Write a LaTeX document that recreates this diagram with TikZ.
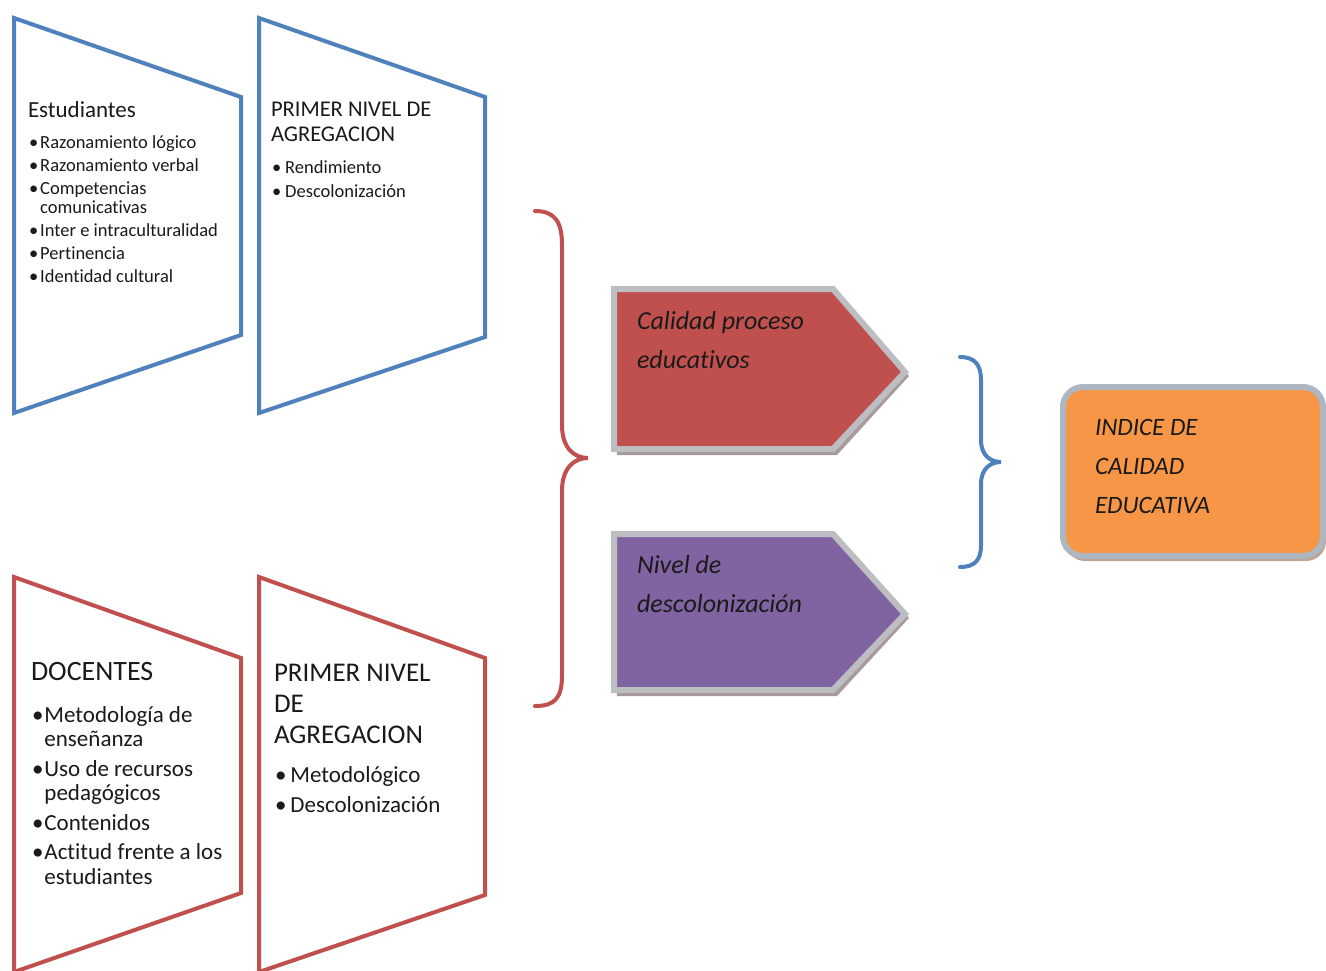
\documentclass[tikz,border=0pt]{standalone}
\usepackage{fontspec}
\setmainfont[Ligatures={NoCommon}]{Carlito}
\definecolor{cblue}{HTML}{4F81BD}
\definecolor{cred}{HTML}{C0504D}
\definecolor{cpurple}{HTML}{8064A2}
\definecolor{corange}{HTML}{F79646}
\definecolor{cgray}{HTML}{BDBEC1}
\definecolor{cgrayb}{HTML}{AEB6C2}
\definecolor{cshadow}{HTML}{A89A9C}
\definecolor{oshadow}{HTML}{BFA493}
\definecolor{ctext}{HTML}{1A1A1A}
\tikzset{
  trap/.style={line width=4pt, line join=miter, fill=white},
  brace/.style={line width=4pt, line cap=round},
  arrowshape/.style={draw=cgray, line width=6pt, line join=miter},
  shadowshape/.style={fill=cshadow, draw=none},
  txt/.style={anchor=base west, inner sep=0pt, outer sep=0pt, text=ctext},
}
\begin{document}
\begin{tikzpicture}[x=1pt,y=-1pt]
\useasboundingbox (0,0) rectangle (1326,970);
% trapezoids
\path[trap, draw=cblue] (14,18) -- (241,97) -- (241,335) -- (14,413) -- cycle;
\path[trap, draw=cblue] (259,18) -- (485,97) -- (485,337) -- (259,413) -- cycle;
\path[trap, draw=cred] (14,577) -- (241,658) -- (241,893) -- (14,972) -- cycle;
\path[trap, draw=cred] (259,577) -- (485,658) -- (485,895) -- (259,972) -- cycle;

% texts top-left
\node[txt] (est) at (28,117) {\fontsize{23}{25}\selectfont Estudiantes};
\node[txt] (estl) at (29,148) {\fontsize{18.5}{23}\selectfont\begin{tabular}[t]{@{}l@{\hspace{2pt}}l@{}}
•&Razonamiento lógico\\
•&Razonamiento verbal\\
•&Competencias\\[-4pt]
&comunicativas\\
•&Inter e intraculturalidad\\
•&Pertinencia\\
•&Identidad cultural
\end{tabular}};
% top-right
\node[txt] (pn1) at (271,116) {\fontsize{22.5}{25}\selectfont\begin{tabular}[t]{@{}l@{}}PRIMER NIVEL DE\\AGREGACION\end{tabular}};
\node[txt] (pn1l) at (272,173) {\fontsize{18.5}{24}\selectfont\begin{tabular}[t]{@{}l@{\hspace{4pt}}l@{}}
•&Rendimiento\\
•&Descolonización
\end{tabular}};
% bottom-left
\node[txt] (doc) at (31,680) {\fontsize{28}{30}\selectfont DOCENTES};
\node[txt] (docl) at (32,722) {\fontsize{23}{29.5}\selectfont\begin{tabular}[t]{@{}l@{\hspace{1pt}}l@{}}
•&Metodología de\\[-5pt]
&enseñanza\\
•&Uso de recursos\\[-5pt]
&pedagógicos\\
•&Contenidos\\
•&Actitud frente a los\\[-5pt]
&estudiantes
\end{tabular}};
% bottom-right
\node[txt] (pn2) at (274,681) {\fontsize{27}{31}\selectfont\begin{tabular}[t]{@{}l@{}}PRIMER NIVEL\\DE\\AGREGACION\end{tabular}};
\node[txt] (pn2l) at (275,782) {\fontsize{23}{30}\selectfont\begin{tabular}[t]{@{}l@{\hspace{4pt}}l@{}}
•&Metodológico\\
•&Descolonización
\end{tabular}};

% braces
\draw[brace, cred] (535,211) .. controls (555,211) and (562,222) .. (562,245) -- (562,425)
  .. controls (562,448) and (574,458) .. (588,458)
  .. controls (574,458) and (562,468) .. (562,491) -- (562,675)
  .. controls (562,698) and (555,706) .. (535,706);
\draw[brace, cblue] (960,357) .. controls (975,357) and (981,365) .. (981,380) -- (981,440)
  .. controls (981,455) and (990,462) .. (1001,462)
  .. controls (990,462) and (981,469) .. (981,484) -- (981,545)
  .. controls (981,560) and (975,567) .. (960,567);

% pentagon arrows
\fill[shadowshape] (617,293) -- (837,293) -- (909,376) -- (837,455) -- (617,455) -- cycle;
\path[arrowshape, fill=cred] (614,289) -- (833,289) -- (905,372) -- (833,449) -- (614,449) -- cycle;
\fill[shadowshape] (617,538) -- (837,538) -- (909,618) -- (837,696) -- (617,696) -- cycle;
\path[arrowshape, fill=cpurple] (614,534) -- (833,534) -- (905,614) -- (833,690) -- (614,690) -- cycle;

\node[txt] (cal) at (637,329) {\fontsize{26}{39}\selectfont\itshape\begin{tabular}[t]{@{}l@{}}Calidad proceso\\educativos\end{tabular}};
\node[txt] (niv) at (637,573) {\fontsize{26}{39}\selectfont\itshape\begin{tabular}[t]{@{}l@{}}Nivel de\\descolonización\end{tabular}};

% orange box
\fill[oshadow, rounded corners=20pt] (1065,391) rectangle (1326,561);
\path[draw=cgrayb, line width=6pt, fill=corange, rounded corners=20pt] (1063,387) rectangle (1323,556);
\node[txt] (ind) at (1095,435) {\fontsize{25}{39}\selectfont\itshape\begin{tabular}[t]{@{}l@{}}INDICE DE\\CALIDAD\\EDUCATIVA\end{tabular}};
\end{tikzpicture}
\end{document}
